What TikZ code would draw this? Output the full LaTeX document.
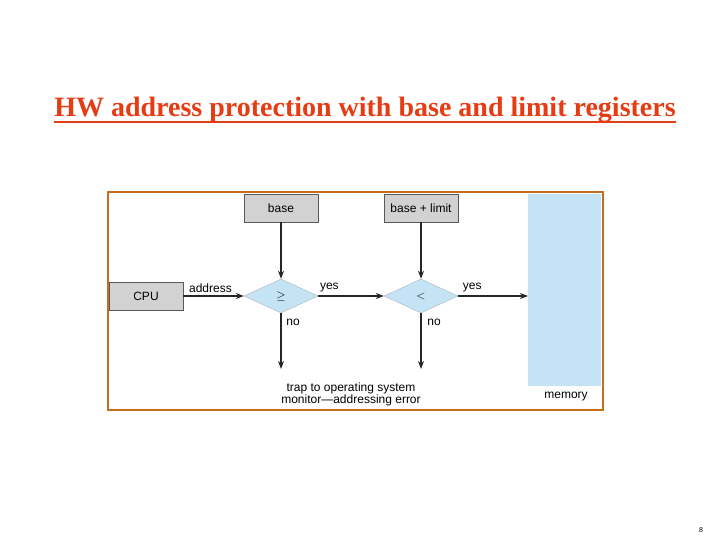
\documentclass[tikz,border=0pt]{standalone}
\usepackage{fontspec}
\setmainfont{Liberation Sans}
\newfontfamily\titlefont{Liberation Serif}
\usetikzlibrary{shapes.geometric,arrows.meta}
\definecolor{gbox}{RGB}{210,210,210}
\definecolor{lblue}{RGB}{196,228,246}
\definecolor{frameor}{RGB}{196,110,30}
\definecolor{titlered}{RGB}{230,60,20}
\begin{document}
\begin{tikzpicture}[x=1pt,y=-1pt,
  reg/.style={draw=gray!70!black,fill=gbox,minimum width=74pt,minimum height=28pt,inner sep=0pt,font=\fontsize{12}{13}\selectfont},
  dia/.style={diamond,draw=gray!60,fill=lblue,minimum width=74pt,minimum height=34pt,inner sep=0pt,aspect=2.2,font=\fontsize{12}{13}\selectfont},
  lbl/.style={font=\fontsize{12}{13}\selectfont,inner sep=1pt},
  arr/.style={draw=black!85,line width=1.4pt,-{Stealth[length=8pt,width=6pt]}}]
\useasboundingbox (0,0) rectangle (720,540);
\node[text=titlered,font=\titlefont\bfseries\fontsize{28}{32}\selectfont,inner sep=0pt] (title) at (365,110) {HW address protection with base and limit registers};
\draw[titlered,line width=1.4pt] (title.west |- 0,122) -- (title.east |- 0,122);
\node[draw=frameor,line width=2.5pt,minimum width=495pt,minimum height=218pt,inner sep=0pt] (frame) at (355.5,301) {};
\node[fill=lblue,minimum width=73pt,minimum height=192pt,inner sep=0pt,anchor=north west] (mem) at (528,194) {};
\node[lbl] (memlbl) at (566,397) {memory};
\node[reg] (base) at (281,208) {base};
\node[reg] (bl) at (421,208) {base + limit};
\node[reg] (cpu) at (146,296) {CPU};
\node[dia] (d1) at (281,296) {$\geq$};
\node[dia] (d2) at (421,296) {$<$};
\coordinate (t1) at (281,369);
\coordinate (t2) at (421,369);
\coordinate (m) at (528,296);
\draw[arr] (cpu) -- node[lbl,above=2pt,pos=0.45] {address} (d1);
\draw[arr] (d1) -- node[lbl,above=2pt,pos=0.17] {yes} (d2);
\draw[arr] (d2) -- node[lbl,above=2pt,pos=0.2] {yes} (m);
\draw[arr] (base) -- (d1);
\draw[arr] (bl) -- (d2);
\draw[arr] (d1) -- (t1);
\draw[arr] (d2) -- (t2);
\node[lbl] (no1) at (293,322) {no};
\node[lbl] (no2) at (434,322) {no};
\node[lbl,align=center] (trap) at (351,394) {trap to operating system\\[-1pt]monitor---addressing error};
\node[font=\fontsize{7}{8}\selectfont] (pg) at (701,530) {8};
\end{tikzpicture}
\end{document}
